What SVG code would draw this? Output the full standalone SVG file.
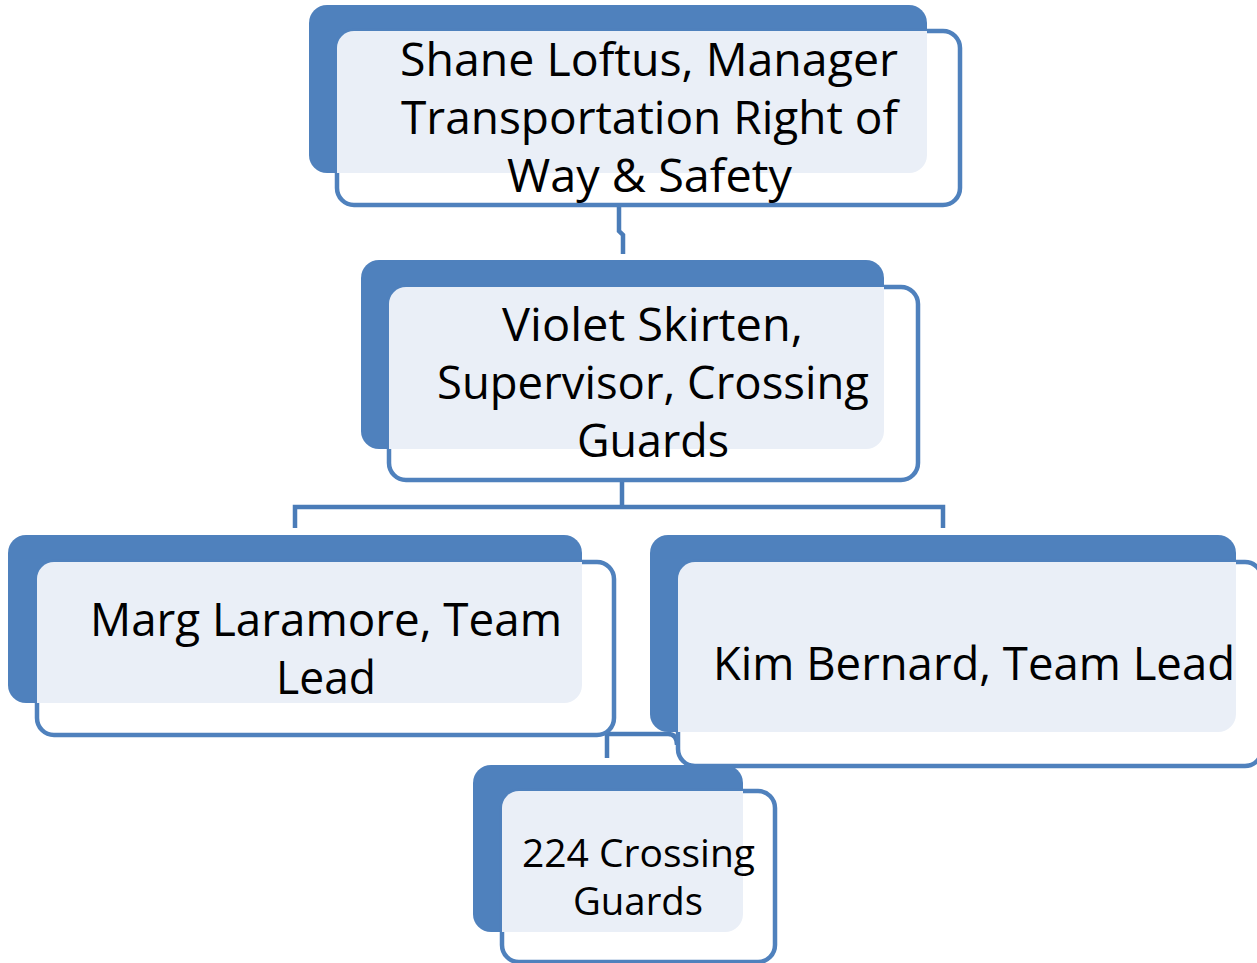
<svg xmlns="http://www.w3.org/2000/svg" width="1257" height="963" viewBox="0 0 1257 963">
<style>
.back{fill:#4F81BD}
.front{fill:#FFFFFF;stroke:#4F81BD;stroke-width:4.5}
.light{fill:#EAEFF7}
.conn{fill:none;stroke:#4A7CB8;stroke-width:4.5}
.t{font-family:"Open Sans","Liberation Sans",sans-serif;font-size:45px;fill:#000}
.ts{font-family:"Open Sans","Liberation Sans",sans-serif;font-size:39px;fill:#000}
</style>
<defs>
<clipPath id="c1"><rect x="337" y="31" width="623" height="174" rx="17"/></clipPath>
<clipPath id="c2"><rect x="389" y="287" width="529" height="193" rx="17"/></clipPath>
<clipPath id="c3"><rect x="37" y="562" width="577" height="173" rx="17"/></clipPath>
<clipPath id="c4"><rect x="678" y="562" width="584" height="204" rx="17"/></clipPath>
<clipPath id="c5"><rect x="502" y="791" width="273" height="171" rx="17"/></clipPath>
</defs>
<g id="connectors">
<path class="conn" d="M619 205 V231 L623 235 V254"/>
<path class="conn" d="M622 480 V507 M295 528 V507 H943 V528"/>
<path class="conn" d="M607 758 V734 H668 Q677 734 677 745"/>
</g>
<g id="node-shane">
<rect class="back" x="309" y="5" width="618" height="168" rx="18"/>
<rect class="front" x="337" y="31" width="623" height="174" rx="17"/>
<rect class="light" x="309" y="5" width="618" height="168" rx="18" clip-path="url(#c1)"/>
<text class="t" x="400" y="76" textLength="498" lengthAdjust="spacingAndGlyphs">Shane Loftus, Manager</text>
<text class="t" x="401" y="134" textLength="497" lengthAdjust="spacingAndGlyphs">Transportation Right of</text>
<text class="t" x="507" y="192" textLength="285" lengthAdjust="spacingAndGlyphs">Way &amp; Safety</text>
</g>
<g id="node-violet">
<rect class="back" x="361" y="260" width="523" height="189" rx="18"/>
<rect class="front" x="389" y="287" width="529" height="193" rx="17"/>
<rect class="light" x="361" y="260" width="523" height="189" rx="18" clip-path="url(#c2)"/>
<text class="t" x="502" y="341" textLength="301" lengthAdjust="spacingAndGlyphs">Violet Skirten,</text>
<text class="t" x="437" y="399" textLength="432" lengthAdjust="spacingAndGlyphs">Supervisor, Crossing</text>
<text class="t" x="577" y="457" textLength="152" lengthAdjust="spacingAndGlyphs">Guards</text>
</g>
<g id="node-marg">
<rect class="back" x="8" y="535" width="574" height="168" rx="18"/>
<rect class="front" x="37" y="562" width="577" height="173" rx="17"/>
<rect class="light" x="8" y="535" width="574" height="168" rx="18" clip-path="url(#c3)"/>
<text class="t" x="90" y="636" textLength="472" lengthAdjust="spacingAndGlyphs">Marg Laramore, Team</text>
<text class="t" x="276" y="694" textLength="100" lengthAdjust="spacingAndGlyphs">Lead</text>
</g>
<g id="node-kim">
<rect class="back" x="650" y="535" width="586" height="197" rx="18"/>
<rect class="front" x="678" y="562" width="584" height="204" rx="17"/>
<rect class="light" x="650" y="535" width="586" height="197" rx="18" clip-path="url(#c4)"/>
<text class="t" x="713" y="680" textLength="522" lengthAdjust="spacingAndGlyphs">Kim Bernard, Team Lead</text>
</g>
<g id="node-guards">
<rect class="back" x="473" y="765" width="270" height="167" rx="18"/>
<rect class="front" x="502" y="791" width="273" height="171" rx="17"/>
<rect class="light" x="473" y="765" width="270" height="167" rx="18" clip-path="url(#c5)"/>
<text class="ts" x="522" y="867" textLength="233" lengthAdjust="spacingAndGlyphs">224 Crossing</text>
<text class="ts" x="573" y="915" textLength="130" lengthAdjust="spacingAndGlyphs">Guards</text>
</g>
</svg>
